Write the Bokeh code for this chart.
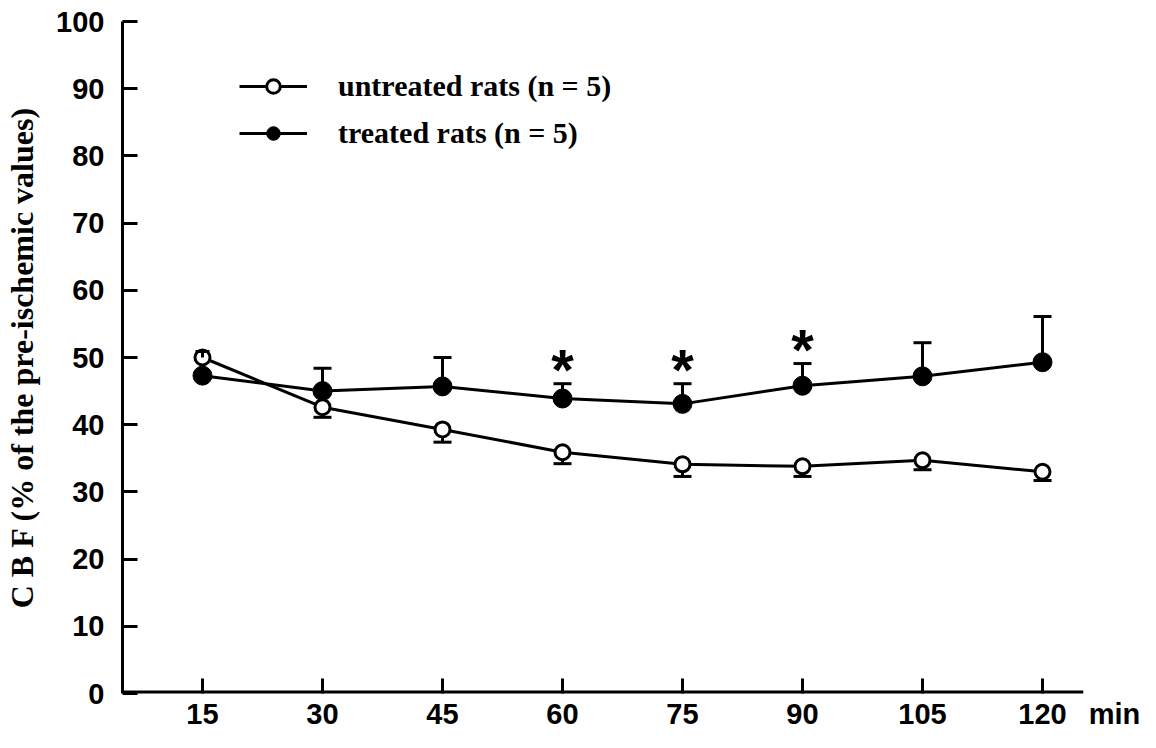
import math
from bokeh.plotting import figure
from bokeh.models import Range1d, FixedTicker, Legend, LegendItem
from bokeh.core.properties import value
from bokeh.embed import file_html
from bokeh.resources import INLINE

# ---- data ----
times = [15, 30, 45, 60, 75, 90, 105, 120]
untreated = [50.0, 42.6, 39.3, 35.9, 34.1, 33.8, 34.7, 33.0]
untreated_err = [0.9, 1.5, 1.9, 1.7, 1.8, 1.5, 1.4, 1.3]
untreated_dir = [1, -1, -1, -1, -1, -1, -1, -1]   # direction of the drawn SEM bar
treated = [47.3, 45.0, 45.7, 43.9, 43.1, 45.8, 47.2, 49.3]
treated_err = [0.0, 3.4, 4.3, 2.2, 3.0, 3.3, 5.0, 6.8]
significant = [60, 75, 90]
y_ticks = [0, 10, 20, 30, 40, 50, 60, 70, 80, 90, 100]
x_ticks = [15, 30, 45, 60, 75, 90, 105, 120]
y_label = "C B F (% of the pre-ischemic values)"
x_unit = "min"
legend_labels = ["untreated rats (n = 5)", "treated rats (n = 5)"]

# layout constants
X_START, X_AXIS_END, X_VIEW_END = 5, 125.1, 131.25
UNIT_POS = 129

SANS = "Liberation Sans"
SERIF = "Liberation Serif"

p = figure(width=1140, height=732, output_backend="svg", toolbar_location=None,
           x_range=Range1d(X_START, X_VIEW_END), y_range=Range1d(0, 100),
           min_border_left=122, min_border_right=8, min_border_top=21, min_border_bottom=39)
p.grid.visible = False
p.outline_line_color = None
p.background_fill_color = "white"
p.border_fill_color = "white"

for ax in (p.xaxis[0], p.yaxis[0]):
    ax.axis_line_width = 3
    ax.axis_line_color = "black"
    ax.major_tick_line_width = 3
    ax.major_tick_line_color = "black"
    ax.major_tick_in = 15
    ax.major_tick_out = 0
    ax.minor_tick_line_color = None
    ax.major_label_text_font = SANS
    ax.major_label_text_font_style = "bold"
    ax.major_label_text_font_size = "29px"
    ax.major_label_text_color = "black"

# x axis: labels from the axis (including the unit), line and tick marks drawn as glyphs
p.xaxis.ticker = FixedTicker(ticks=x_ticks + [UNIT_POS])
p.xaxis.major_label_overrides = {UNIT_POS: x_unit}
p.xaxis.axis_line_color = None
p.xaxis.major_tick_line_color = None
p.xaxis.major_label_standoff = 4

p.yaxis.ticker = FixedTicker(ticks=y_ticks)
p.yaxis.major_label_standoff = 18
p.yaxis.axis_label = y_label
p.yaxis.axis_label_text_font = SERIF
p.yaxis.axis_label_text_font_style = "bold"
p.yaxis.axis_label_text_font_size = "32px"
p.yaxis.axis_label_text_color = "black"
p.yaxis.axis_label_standoff = 13

# x-axis line (half of a 6px line is clipped at the frame edge -> 3px visible)
p.segment(x0=[X_START], y0=[0], x1=[X_AXIS_END], y1=[0], line_color="black", line_width=6)
# inward x tick marks (lower half clipped at the frame edge)
p.scatter(x=x_ticks, y=[0] * len(x_ticks), marker="dash", angle=math.pi / 2,
          size=30, line_color="black", line_width=3)

# ---- error bars ----
t_up = [v + e for v, e in zip(treated, treated_err)]
u_end = [v + d * e for v, e, d in zip(untreated, untreated_err, untreated_dir)]

t_idx = [i for i, e in enumerate(treated_err) if e > 0]
p.segment(x0=[times[i] for i in t_idx], y0=[treated[i] for i in t_idx],
          x1=[times[i] for i in t_idx], y1=[t_up[i] for i in t_idx],
          line_color="black", line_width=3)
p.scatter(x=[times[i] for i in t_idx], y=[t_up[i] for i in t_idx], marker="dash",
          size=18, line_color="black", line_width=3)

down_idx = [i for i, d in enumerate(untreated_dir) if d < 0]
up_idx = [i for i, d in enumerate(untreated_dir) if d > 0]
p.segment(x0=[times[i] for i in down_idx], y0=[untreated[i] for i in down_idx],
          x1=[times[i] for i in down_idx], y1=[u_end[i] for i in down_idx],
          line_color="black", line_width=3)
p.scatter(x=[times[i] for i in down_idx], y=[u_end[i] for i in down_idx], marker="dash",
          size=18, line_color="black", line_width=3)

# ---- series ----
l_u = p.line(times, untreated, line_color="black", line_width=3)
l_t = p.line(times, treated, line_color="black", line_width=3)
s_t = p.scatter(times, treated, marker="circle", size=19, fill_color="black", line_color="black", line_width=1)
s_u = p.scatter(times, untreated, marker="circle", size=15, fill_color="white", line_color="black", line_width=3)

# untreated bars that point up sit on top of the open circle
p.segment(x0=[times[i] for i in up_idx], y0=[untreated[i] for i in up_idx],
          x1=[times[i] for i in up_idx], y1=[u_end[i] for i in up_idx],
          line_color="black", line_width=3)
p.scatter(x=[times[i] for i in up_idx], y=[u_end[i] for i in up_idx], marker="dash",
          size=14, line_color="black", line_width=3)

# ---- significance asterisks ----
sig_y = [t_up[times.index(t)] for t in significant]
p.text(x=significant, y=sig_y, text=["*"] * len(significant), text_font=value(SANS),
       text_font_style="bold", text_font_size="58px", text_align="center",
       text_baseline="alphabetic", y_offset=-14, text_color="black")

# ---- legend ----
legend = Legend(items=[LegendItem(label=legend_labels[0], renderers=[l_u, s_u]),
                       LegendItem(label=legend_labels[1], renderers=[l_t, s_t])],
                location=(117, 543), orientation="vertical",
                glyph_width=68, glyph_height=34, label_height=34, spacing=13,
                label_standoff=31, padding=0, margin=0,
                border_line_color=None, background_fill_alpha=0,
                label_text_font=SERIF, label_text_font_style="bold",
                label_text_font_size="30px", label_text_color="black",
                label_text_baseline="middle")
p.add_layout(legend)

open("out.html", "w").write(file_html(p, INLINE))
